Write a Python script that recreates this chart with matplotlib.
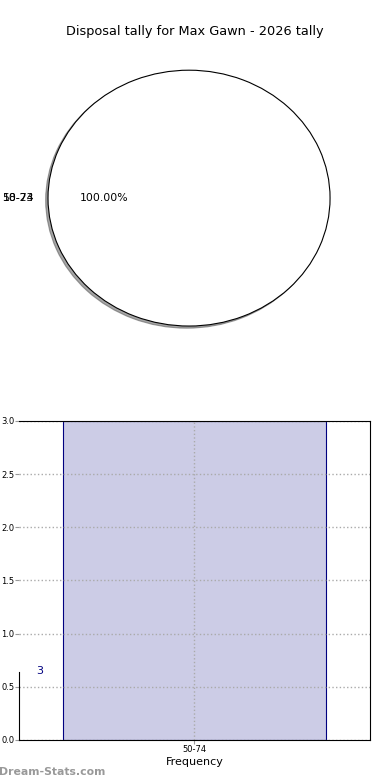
import matplotlib
matplotlib.use("Agg")
import matplotlib.pyplot as plt

# data
categories = ["50-74"]
counts = [3]
ghost_label = "18-23"
title = "Disposal tally for Max Gawn - 2026 tally"

fig = plt.figure(figsize=(3.9, 7.8), dpi=100)
fig.suptitle(title, fontsize=9.3, y=0.968)

# pie
ax1 = fig.add_axes([0.0327, 0.541, 0.904, 0.410])
wedges, texts, autotexts = ax1.pie(counts, labels=categories, autopct="%.2f%%",
                                   shadow=dict(ox=-0.012, oy=-0.012, shade=0.7), startangle=0,
                                   wedgeprops=dict(facecolor="white", edgecolor="black", linewidth=0.8),
                                   textprops=dict(fontsize=7.8))
ax1.set_aspect("auto")
ax1.set_xlim(-1.25, 1.25)
ax1.set_ylim(-1.25, 1.25)
# second label drawn on top of the first one
tx, ty = texts[0].get_position()
ax1.text(tx, ty, ghost_label, ha=texts[0].get_ha(), va=texts[0].get_va(), fontsize=7.8)

# bar
ax2 = fig.add_axes([0.0487, 0.0513, 0.9, 0.409])
ax2.bar(range(len(categories)), counts, width=0.8, color="#ccccE6", edgecolor="navy", linewidth=0.8)
ax2.set_xlim(-0.532, 0.532)
ax2.set_ylim(0, 3)
ax2.set_xticks(range(len(categories)))
ax2.set_xticklabels(categories)
ax2.set_yticks([0, 0.5, 1.0, 1.5, 2.0, 2.5, 3.0])
ax2.tick_params(labelsize=6, color="#999999", length=3, pad=0.5)
ax2.grid(True, linestyle=":", color="#aaaaaa", linewidth=1)
ax2.set_axisbelow(False)
for sp in ax2.spines.values():
    sp.set_zorder(5)
ax2.set_xlabel("Frequency", fontsize=8, labelpad=2)
ax2.spines["left"].set_bounds(0, 0.64)
ax2.text(-0.48, 0.62, str(counts[0]), color="navy", fontsize=8)

fig.text(-0.002, 0.006, "Dream-Stats.com", fontsize=7.8, color="#999999", fontweight="bold")

fig.savefig("out.png", dpi=100)
